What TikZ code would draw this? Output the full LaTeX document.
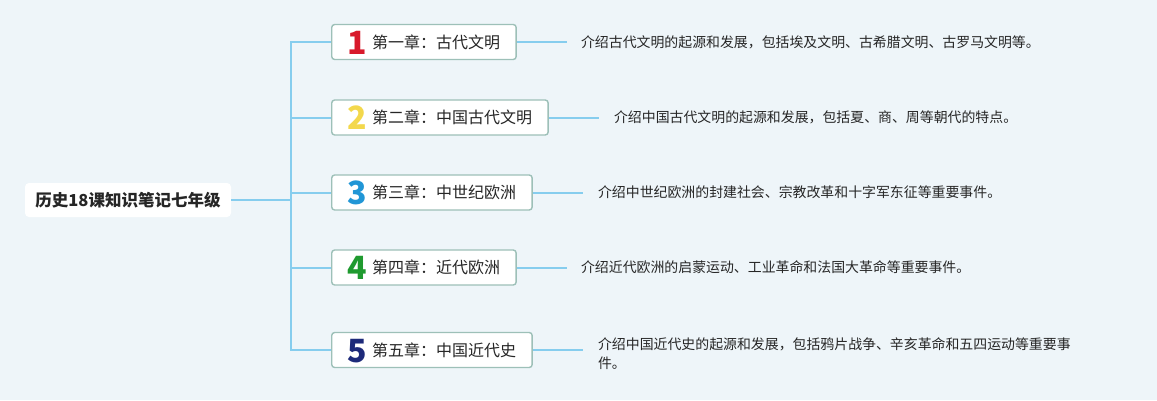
\documentclass[tikz,border=0pt]{standalone}
\usepackage{fontspec}
\setmainfont{Noto Sans CJK SC}
\usepackage{tikz}
\usetikzlibrary{positioning}
\definecolor{bgblue}{HTML}{EEF5F9}
\definecolor{linkblue}{HTML}{86CDEE}
\definecolor{boxrim}{HTML}{9DC0B8}
\definecolor{numred}{HTML}{D8192B}
\definecolor{numyellow}{HTML}{F3D84C}
\definecolor{numblue}{HTML}{2196D6}
\definecolor{numgreen}{HTML}{1F9A2F}
\definecolor{numnavy}{HTML}{1D2A7A}
\tikzset{
    every node/.style={text=black!85}, % dark grey text everywhere
    link/.style={draw=linkblue, line width=2pt}, % the light blue connectors
    rootbox/.style={fill=white, rounded corners=4pt, minimum width=206pt, minimum height=34pt, font=\bfseries\fontsize{16.5}{18}\selectfont},
    chapbox/.style={draw=boxrim, line width=1.4pt, fill=white, rounded corners=3pt, minimum height=35pt, inner xsep=16pt, inner ysep=2pt, anchor=west, font=\fontsize{16}{18}\selectfont},
    desc/.style={inner sep=0pt, align=left, font=\fontsize{13.9}{19}\selectfont},
}
% big coloured chapter number, kept out of the box height
\newcommand{\chapnum}[2]{\raisebox{-6pt}[0pt][0pt]{\textcolor{#1}{\bfseries\fontsize{32}{32}\selectfont #2}}\hspace{5pt}}

\begin{document}
\begin{tikzpicture}[x=1pt, y=-1pt]
    \fill[bgblue] (0,0) rectangle (1157,400);
    \useasboundingbox (0,0) rectangle (1157,400);

    \node[rootbox] (root) at (128,200) {历史18课知识笔记七年级};
    \coordinate (hub) at (291,200);

    \node[chapbox] (c1) at (331,42) {\chapnum{numred}{1}第一章：古代文明};
    \node[chapbox] (c2) at (331,117.5) {\chapnum{numyellow}{2}第二章：中国古代文明};
    \node[chapbox] (c3) at (331,192.5) {\chapnum{numblue}{3}第三章：中世纪欧洲};
    \node[chapbox] (c4) at (331,267.5) {\chapnum{numgreen}{4}第四章：近代欧洲};
    \node[chapbox] (c5) at (331,350) {\chapnum{numnavy}{5}第五章：中国近代史};

    \foreach \i in {1,...,5}
        \coordinate (e\i) at ([xshift=50pt]c\i.east);

    \node[desc, right=14pt of e1] (d1) {介绍古代文明的起源和发展，包括埃及文明、古希腊文明、古罗马文明等。};
    \node[desc, right=15pt of e2] (d2) {介绍中国古代文明的起源和发展，包括夏、商、周等朝代的特点。};
    \node[desc, right=15pt of e3] (d3) {介绍中世纪欧洲的封建社会、宗教改革和十字军东征等重要事件。};
    \node[desc, right=14pt of e4] (d4) {介绍近代欧洲的启蒙运动、工业革命和法国大革命等重要事件。};
    \node[desc, right=15pt of e5, yshift=-4pt] (d5) {介绍中国近代史的起源和发展，包括鸦片战争、辛亥革命和五四运动等重要事\\件。};

    \draw[link] (root.east) -- (hub);
    \foreach \i in {1,...,5} {
        \draw[link] (hub) |- (c\i.west);
        \draw[link] (c\i.east) -- (e\i);
    }
\end{tikzpicture}
\end{document}
